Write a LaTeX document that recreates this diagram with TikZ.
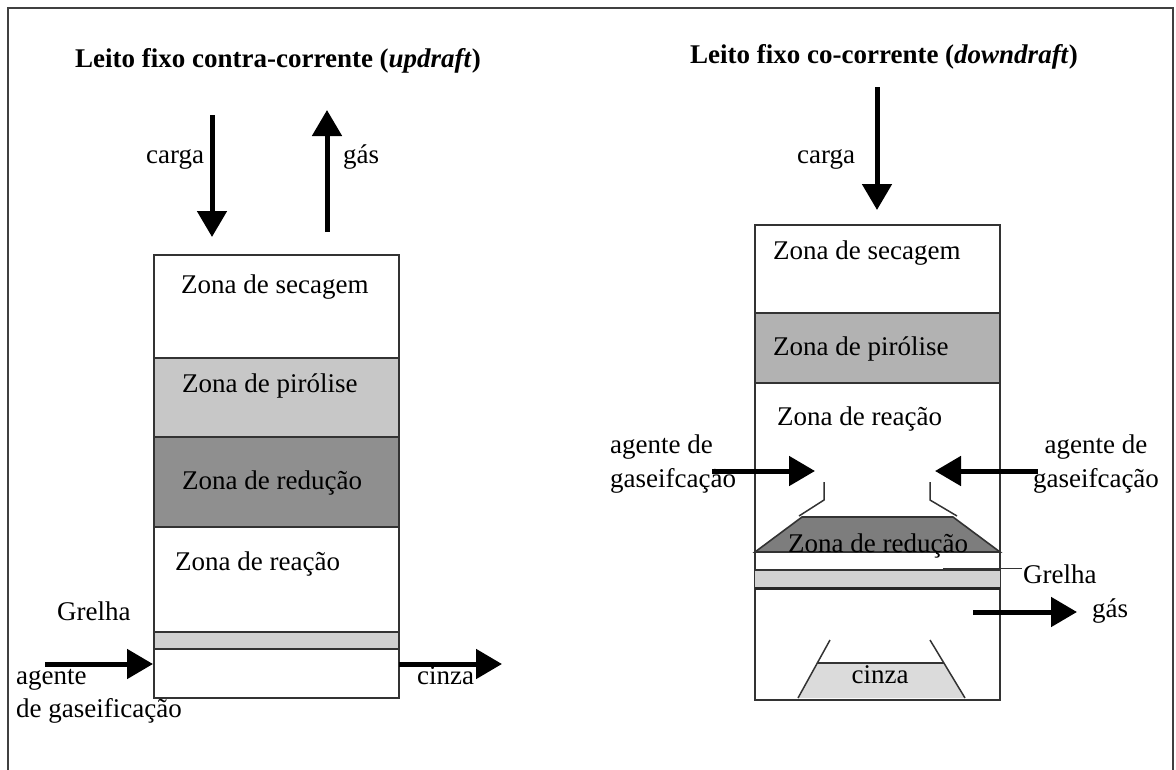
\documentclass[tikz,border=0pt]{standalone}
\usepackage{fontspec}
\setmainfont{Liberation Serif}
\usetikzlibrary{arrows.meta}

\definecolor{pirleft}{gray}{0.78}
\definecolor{redleft}{gray}{0.56}
\definecolor{pirright}{gray}{0.70}
\definecolor{redright}{gray}{0.49}
\definecolor{grelhacol}{gray}{0.82}
\definecolor{cinzacol}{gray}{0.86}

\tikzset{
  zone/.style={draw=black!80, line width=1.6pt, minimum width=245pt, inner sep=0pt, outer sep=0pt},
  lbl/.style={inner sep=0pt, font=\fontsize{27}{32}\selectfont},
  ttl/.style={inner sep=0pt, font=\bfseries\fontsize{27}{32}\selectfont},
  flow/.style={line width=5pt, -{Triangle[length=26pt,width=29pt]}},
  wall/.style={draw=black!80, line width=1.6pt},
}

\begin{document}
\begin{tikzpicture}[x=1pt, y=-1pt]

    \useasboundingbox (0,0) rectangle (1176,769);

    % Outer frame
    \draw[line width=2pt, black!75] (8,8) rectangle (1173,800);

    % Titles
    \node[ttl, anchor=base] (ltitle) at (278,67) {Leito fixo contra-corrente (\textit{updraft})};
    \node[ttl, anchor=base] (rtitle) at (884,63) {Leito fixo co-corrente (\textit{downdraft})};

    % Left reactor (updraft) zones
    \node[zone, minimum height=103pt] (lsec) at (276.5,306.5) {};
    \node[zone, fill=pirleft, minimum height=79pt] (lpir) at (276.5,397.5) {};
    \node[zone, fill=redleft, minimum height=90pt] (lred) at (276.5,482) {};
    \node[zone, minimum height=105pt] (lrea) at (276.5,579.5) {};
    \node[zone, fill=grelhacol, minimum height=17pt] (lgre) at (276.5,640.5) {};
    \node[zone, minimum height=49pt] (lcin) at (276.5,673.5) {};

    % Left zone labels
    \node[lbl, anchor=base west] (lsect) at (181,293) {Zona de secagem};
    \node[lbl, anchor=base west] (lpirt) at (182,392) {Zona de pirólise};
    \node[lbl, anchor=base west] (lredt) at (182,489) {Zona de redução};
    \node[lbl, anchor=base west] (lreat) at (175,570) {Zona de reação};

    % Left flows
    \coordinate (lcargaA) at (212,115);
    \coordinate (lcargaB) at (212,237);
    \coordinate (lgasA) at (327,232);
    \coordinate (lgasB) at (327,110);
    \coordinate (lageA) at (45,664);
    \coordinate (lageB) at (153,664);
    \coordinate (lcinA) at (399,664);
    \coordinate (lcinB) at (502,664);
    \draw[flow] (lcargaA) -- (lcargaB);
    \draw[flow] (lgasA) -- (lgasB);
    \draw[flow] (lageA) -- (lageB);
    \draw[flow] (lcinA) -- (lcinB);

    \node[lbl, anchor=base west] (lcargat) at (146,163) {carga};
    \node[lbl, anchor=base west] (lgast) at (343,163) {gás};
    \node[lbl, anchor=base west] (lgrelt) at (57,620) {Grelha};
    \node[lbl, anchor=base west] (laget1) at (16,684) {agente};
    \node[lbl, anchor=base west] (laget2) at (16,717) {de gaseificação};
    \node[lbl, anchor=base west] (lcint) at (417,684) {cinza};

    % Right reactor (downdraft) zones
    \node[zone, minimum height=88pt] (rsec) at (877.5,269) {};
    \node[zone, fill=pirright, minimum height=70pt] (rpir) at (877.5,348) {};
    \node[zone, minimum height=317pt] (rrea) at (877.5,541.5) {};

    % Throat and reduction zone
    \draw[line width=1.5pt, black!80] (824,482) -- (824,500) -- (799,516);
    \draw[line width=1.5pt, black!80] (930,482) -- (930,500) -- (957,516);
    \draw[wall, fill=redright] (802,517) -- (953,517) -- (1000,552) -- (755,552) -- cycle;

    % Grate
    \fill[grelhacol] (755,570) rectangle (1000,588);
    \draw[line width=1.4pt, black!80] (755,570) -- (1000,570);
    \draw[line width=3pt, black!85] (755,588) -- (1000,588);
    \draw[line width=1pt, black!80] (943,568) -- (1022,568);

    % Ash hopper
    \fill[cinzacol] (817,663) -- (944,663) -- (965,698) -- (798,698) -- cycle;
    \draw[line width=1.5pt, black!80] (830,640) -- (798,698);
    \draw[line width=1.5pt, black!80] (930,640) -- (965,698);
    \draw[line width=1.5pt, black!80] (817,663) -- (944,663);

    % Right zone labels
    \node[lbl, anchor=base west] (rsect) at (773,259) {Zona de secagem};
    \node[lbl, anchor=base west] (rpirt) at (773,355) {Zona de pirólise};
    \node[lbl, anchor=base west] (rreat) at (777,425) {Zona de reação};
    \node[lbl, anchor=base west] (rredt) at (788,552) {Zona de redução};
    \node[lbl, anchor=base] (rcint) at (880,683) {cinza};

    % Right flows
    \coordinate (rcargaA) at (877,87);
    \coordinate (rcargaB) at (877,210);
    \coordinate (rageLA) at (712,471);
    \coordinate (rageLB) at (815,471);
    \coordinate (rageRA) at (1038,471);
    \coordinate (rageRB) at (935,471);
    \coordinate (rgasA) at (973,612);
    \coordinate (rgasB) at (1077,612);
    \draw[flow] (rcargaA) -- (rcargaB);
    \draw[flow] (rageLA) -- (rageLB);
    \draw[flow] (rageRA) -- (rageRB);
    \draw[flow] (rgasA) -- (rgasB);

    \node[lbl, anchor=base west] (rcargat) at (797,163) {carga};
    \node[lbl, anchor=base west] (raget1) at (610,453) {agente de};
    \node[lbl, anchor=base west] (raget2) at (610,487) {gaseifcação};
    \node[lbl, anchor=base] (raget3) at (1096,453) {agente de};
    \node[lbl, anchor=base] (raget4) at (1096,487) {gaseifcação};
    \node[lbl, anchor=base west] (rgrelt) at (1023,583) {Grelha};
    \node[lbl, anchor=base west] (rgast) at (1092,617) {gás};

\end{tikzpicture}
\end{document}
